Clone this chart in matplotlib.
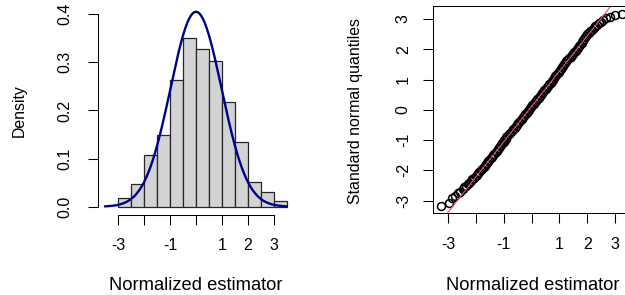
import matplotlib

matplotlib.use("Agg")
import matplotlib.pyplot as plt
import numpy as np

plt.rcParams["font.family"] = ["Liberation Sans", "DejaVu Sans"]
plt.rcParams["axes.unicode_minus"] = False

# --- histogram (density, bins of width 0.5) ---
bin_edges = [-3.0, -2.5, -2.0, -1.5, -1.0, -0.5, 0.0, 0.5, 1.0, 1.5, 2.0, 2.5, 3.0, 3.5]
densities = [0.019, 0.048, 0.107, 0.149, 0.263, 0.350, 0.327, 0.302, 0.217, 0.134, 0.051, 0.030, 0.011]
curve_mean = 0.0
curve_sd = 0.985
curve_range = (-3.5, 3.5)

# --- normal QQ plot (sample on x, theoretical quantiles on y) ---
qq_sample = [
    -3.26, -2.97, -2.86, -2.77, -2.66, -2.58,
    -2.47, -2.42, -2.36, -2.30, -2.24, -2.18, -2.13, -2.07, -2.02, -1.97,
    -1.92, -1.88, -1.83, -1.78, -1.73, -1.69, -1.65, -1.60, -1.56, -1.52,
    -1.47, -1.43, -1.39, -1.34, -1.30, -1.26, -1.22, -1.17, -1.13, -1.09,
    -1.05, -1.01, -0.98, -0.94, -0.91, -0.87, -0.83, -0.77, -0.72, -0.67,
    -0.61, -0.57, -0.53, -0.48, -0.44, -0.40, -0.36, -0.31, -0.27, -0.23,
    -0.18, -0.14, -0.10, -0.05, -0.01, 0.03, 0.08, 0.12, 0.16, 0.21,
    0.25, 0.29, 0.33, 0.38, 0.42, 0.46, 0.51, 0.55, 0.59, 0.64,
    0.68, 0.72, 0.76, 0.81, 0.85, 0.89, 0.94, 0.97, 1.01, 1.05,
    1.08, 1.12, 1.15, 1.20, 1.24, 1.29, 1.35, 1.40, 1.45, 1.50,
    1.54, 1.58, 1.63, 1.67, 1.71, 1.75, 1.80, 1.83, 1.86, 1.89,
    1.92, 1.96, 1.99, 2.05, 2.10, 2.16, 2.23, 2.29, 2.35, 2.42,
    2.48,
    2.58, 2.67, 2.82, 3.00, 3.24,
]
qq_theoretical = [
    -3.17, -3.07, -2.91, -2.85, -2.76, -2.70,
    -2.60, -2.55, -2.50, -2.45, -2.40, -2.35, -2.30, -2.25, -2.20, -2.15,
    -2.10, -2.05, -2.00, -1.95, -1.90, -1.85, -1.80, -1.75, -1.70, -1.65,
    -1.60, -1.55, -1.50, -1.45, -1.40, -1.35, -1.30, -1.25, -1.20, -1.15,
    -1.10, -1.05, -1.00, -0.95, -0.90, -0.85, -0.80, -0.75, -0.70, -0.65,
    -0.60, -0.55, -0.50, -0.45, -0.40, -0.35, -0.30, -0.25, -0.20, -0.15,
    -0.10, -0.05, 0.00, 0.05, 0.10, 0.15, 0.20, 0.25, 0.30, 0.35,
    0.40, 0.45, 0.50, 0.55, 0.60, 0.65, 0.70, 0.75, 0.80, 0.85,
    0.90, 0.95, 1.00, 1.05, 1.10, 1.15, 1.20, 1.25, 1.30, 1.35,
    1.40, 1.45, 1.50, 1.55, 1.60, 1.65, 1.70, 1.75, 1.80, 1.85,
    1.90, 1.95, 2.00, 2.05, 2.10, 2.15, 2.20, 2.25, 2.30, 2.35,
    2.40, 2.45, 2.50, 2.55, 2.60, 2.65, 2.70, 2.75, 2.80, 2.85,
    2.90,
    2.95, 3.02, 3.07, 3.13, 3.16,
]
qqline_intercept = 0.112
qqline_slope = 1.162

x_ticks = [-3, -2, -1, 0, 1, 2, 3]
x_tick_labels = ["-3", "", "-1", "", "1", "2", "3"]
hist_y_ticks = [0.0, 0.1, 0.2, 0.3, 0.4]
hist_y_labels = ["0.0", "0.1", "0.2", "0.3", "0.4"]
qq_y_ticks = [-3, -2, -1, 0, 1, 2, 3]

W, H = 625, 295
fig = plt.figure(figsize=(W / 100, H / 100), dpi=100)


def px_axes(left, top, right, bottom):
    return fig.add_axes([left / W, 1 - bottom / H, (right - left) / W, (bottom - top) / H])


tick_kw = dict(direction="out", length=7.2, width=0.75, labelsize=11.5, colors="black")

# left: histogram + normal density
ax1 = px_axes(98, 4, 294, 214.5)
ax1.bar(bin_edges[:-1], densities, width=np.diff(bin_edges), align="edge",
        color="#d3d3d3", edgecolor="#262626", linewidth=0.9)
xs = np.linspace(curve_range[0], curve_range[1], 400)
ax1.plot(xs, np.exp(-0.5 * ((xs - curve_mean) / curve_sd) ** 2) / (curve_sd * np.sqrt(2 * np.pi)),
         color="#00008b", linewidth=1.7)
ax1.set_xlim(-3.78, 3.78)
ax1.set_ylim(-0.0162, 0.4212)
for s in ("top", "right"):
    ax1.spines[s].set_visible(False)
ax1.spines["left"].set_bounds(0, 0.4)
ax1.spines["bottom"].set_bounds(-3, 3)
ax1.set_xticks(x_ticks)
ax1.set_xticklabels(x_tick_labels)
ax1.set_yticks(hist_y_ticks)
ax1.set_yticklabels(hist_y_labels, rotation=90, va="center")
ax1.tick_params(axis="both", **tick_kw)
ax1.tick_params(axis="x", pad=10)
ax1.tick_params(axis="y", pad=11)

# right: QQ plot
ax2 = px_axes(433.3, 6, 630, 213.3)
ax2.plot(qq_sample, qq_theoretical, "o", mfc="none", mec="black", ms=5.7, mew=1.1)
ax2.axline((0, qqline_intercept), slope=qqline_slope, color="#df536b", linewidth=0.8)
ax2.set_xlim(-3.54, 3.54)
ax2.set_ylim(-3.416, 3.426)
ax2.set_xticks(x_ticks)
ax2.set_xticklabels(x_tick_labels)
ax2.set_yticks(qq_y_ticks)
ax2.set_yticklabels([str(v) for v in qq_y_ticks], rotation=90, va="center")
ax2.tick_params(axis="both", **tick_kw)
ax2.tick_params(axis="x", pad=10)
ax2.tick_params(axis="y", pad=9)

for ax in (ax1, ax2):
    for s in ax.spines.values():
        s.set_linewidth(0.75)

# axis titles
lab_kw = dict(ha="center", color="black")
fig.text(196 / W, 1 - 289.7 / H, "Normalized estimator", va="baseline", fontsize=13.2, **lab_kw)
fig.text(532.5 / W, 1 - 289.7 / H, "Normalized estimator", va="baseline", fontsize=13.2, **lab_kw)
fig.text(19.5 / W, 1 - 110.8 / H, "Density", va="center", rotation=90, fontsize=11.4, **lab_kw)
fig.text(355.5 / W, 1 - 110.8 / H, "Standard normal quantiles", va="center", rotation=90,
         fontsize=11.4, **lab_kw)

fig.savefig("out.png", dpi=100)
